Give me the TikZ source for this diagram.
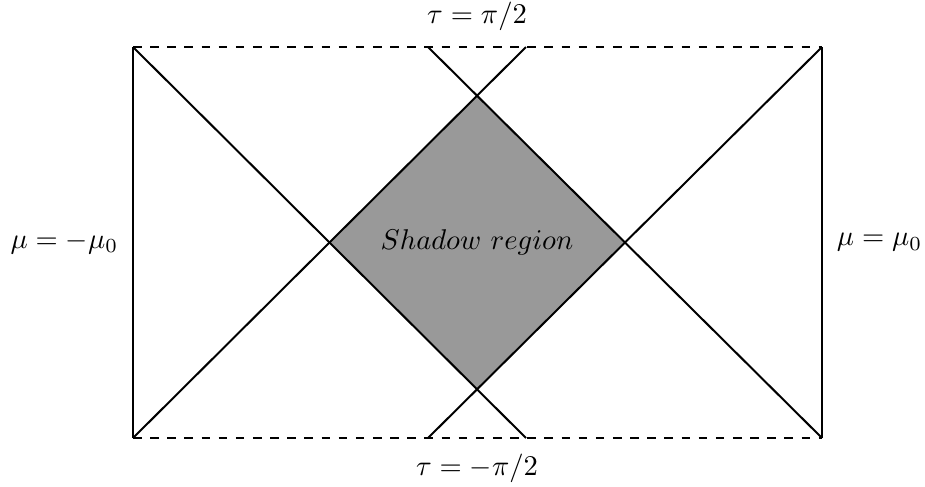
\documentclass[tikz,border=0pt]{standalone}
\usetikzlibrary{positioning}
\tikzset{
  edge/.style={line width=0.7pt},
  lbl/.style={inner sep=2pt},
}
\begin{document}
\begin{tikzpicture}[x=0.35pt,y=-0.35pt]
\useasboundingbox (0,0) rectangle (925,486);
% corners of the strip
\coordinate (tl) at (133,47);
\coordinate (tr) at (822,47);
\coordinate (bl) at (133,438);
\coordinate (br) at (822,438);
% where the light rays meet the ends
\coordinate (tm1) at (428,47);
\coordinate (tm2) at (526,47);
\coordinate (bm1) at (428,438);
\coordinate (bm2) at (526,438);
\coordinate (tmid) at (477,47);
\coordinate (bmid) at (477,438);
\coordinate (lmid) at (133,242.5);
\coordinate (rmid) at (822,242.5);
% shadow region
\coordinate (dt) at (intersection of bl--tm2 and br--tm1);
\coordinate (db) at (intersection of tl--bm2 and tr--bm1);
\coordinate (dl) at (intersection of tl--bm2 and bl--tm2);
\coordinate (dr) at (intersection of tr--bm1 and br--tm1);
\fill[black!40] (dt) -- (dr) -- (db) -- (dl) -- cycle;
\node (shadow) at (477,242.5) {$Shadow\ region$};
% boundaries
\draw[edge] (tl) -- (bl);
\draw[edge] (tr) -- (br);
\draw[edge,dashed] (tl) -- (tr);
\draw[edge,dashed] (bl) -- (br);
% light rays
\draw[edge] (tl) -- (bm2);
\draw[edge] (bl) -- (tm2);
\draw[edge] (tr) -- (bm1);
\draw[edge] (br) -- (tm1);
% labels
\node[lbl,above=3.7pt of tmid] (top) {$\tau=\pi/2$};
\node[lbl,below=3.4pt of bmid] (bot) {$\tau=-\pi/2$};
\node[lbl,left=3pt of lmid] (left) {$\mu=-\mu_0$};
\node[lbl,right=3pt of rmid] (right) {$\mu=\mu_0$};
\end{tikzpicture}
\end{document}
